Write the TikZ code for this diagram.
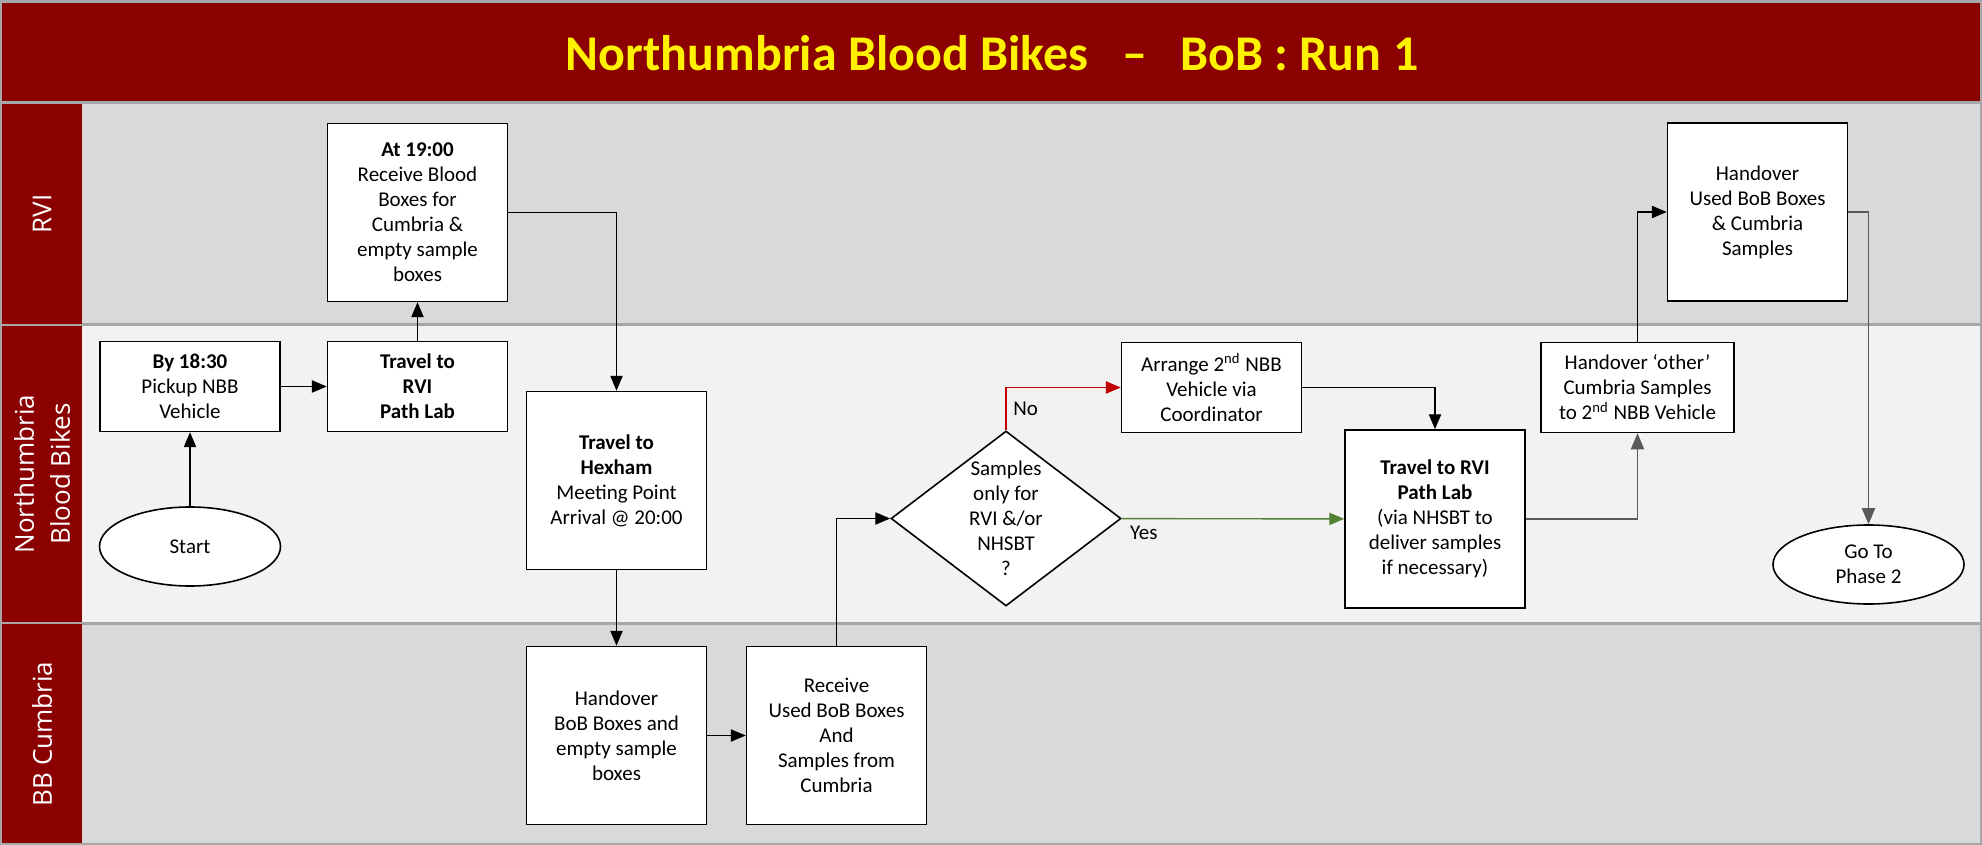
\documentclass[tikz,border=0pt]{standalone}
\usepackage{fontspec}
\setmainfont{Carlito}
\newfontfamily\lanefont{Open Sans}
\usetikzlibrary{shapes, arrows, positioning, calc}
\definecolor{bobred}{RGB}{139,0,0}
\definecolor{lanedark}{RGB}{217,217,217}
\definecolor{lanelight}{RGB}{242,242,242}
\definecolor{lanerule}{RGB}{166,166,166}
\definecolor{nocol}{RGB}{192,0,0}
\definecolor{yescol}{RGB}{84,130,53}

\begin{document}
\begin{tikzpicture}[x=0.5pt, y=-0.5pt, >=triangle 45,
    box/.style={rectangle, draw, fill=white, line width=0.8pt, align=center, minimum width=90pt, inner sep=2pt, font=\fontsize{10.5}{12.5}\selectfont},
    shortbox/.style={box, minimum height=45pt},
    tallbox/.style={box, minimum height=89pt},
    terminal/.style={ellipse, draw, fill=white, line width=0.8pt, align=center, minimum width=90.5pt, minimum height=39.5pt, inner sep=0pt, font=\fontsize{10.5}{12.5}\selectfont},
    lanelabel/.style={rotate=90, text=white, align=center, font=\lanefont\fontsize{13}{18}\selectfont},
    flow/.style={line width=0.7pt, ->},
    greyflow/.style={flow, black!65, line width=0.85pt}]

    \useasboundingbox (0,0) rectangle (1982,845);
    \fill[lanerule] (0,0) rectangle (1982,845);
    \fill[bobred] (2,3) rectangle (1980,101);
    \node[text=yellow, font=\bfseries\fontsize{25}{30}\selectfont] (title) at (992,53) {Northumbria Blood Bikes\hspace{0.67em}–\hspace{0.67em}BoB : Run 1};

    \fill[lanedark] (82,104) rectangle (1980,325);
    \fill[lanelight] (82,325) rectangle (1980,623);
    \fill[lanedark] (82,623) rectangle (1980,843);
    \draw[lanerule, line width=1.5pt] (82,325) -- (1982,325);
    \draw[lanerule, line width=1.5pt] (82,623) -- (1982,623);
    \fill[bobred] (2,104) rectangle (82,324);
    \fill[bobred] (2,326) rectangle (82,622);
    \fill[bobred] (2,624) rectangle (82,843);
    \node[lanelabel] (rvilane) at (42,214) {RVI};
    \node[lanelabel] (nbblane) at (42,474) {Northumbria\\Blood Bikes};
    \node[lanelabel] (cumbrialane) at (42,734) {BB Cumbria};

    \node[terminal] (start) at (190,546.5) {Start};
    \node[shortbox] (pickup) at (190,386.5) {\textbf{By 18:30}\\Pickup NBB\\Vehicle};
    \node[shortbox] (travelrvi) at (417.5,386.5) {\textbf{Travel to}\\\textbf{RVI}\\\textbf{Path Lab}};
    \node[tallbox] (receive) at (417.5,212.5) {\textbf{At 19:00}\\Receive Blood\\Boxes for\\Cumbria \&\\empty sample\\boxes};
    \node[tallbox] (hexham) at (616.5,480.5) {\textbf{Travel to}\\\textbf{Hexham}\\Meeting Point\\Arrival @ 20:00};
    \node[tallbox] (handbob) at (616.5,735.5) {Handover\\BoB Boxes and\\empty sample\\boxes};
    \node[tallbox] (recvused) at (836.5,735.5) {Receive\\Used BoB Boxes\\And\\Samples from\\Cumbria};
    \node[diamond, draw, fill=white, line width=0.8pt, minimum width=115pt, minimum height=87.5pt, inner sep=0pt,
        label={[align=center, font=\fontsize{10.5}{12.5}\selectfont]center:{Samples\\only for\\RVI \&/or\\NHSBT\\?}}] (decide) at (1006,518.5) {};
    \node[shortbox] (arrange) at (1211.5,387.5) {Arrange 2\textsuperscript{nd} NBB\\Vehicle via\\Coordinator};
    \node[tallbox] (pathlab) at (1435,519) {\textbf{Travel to RVI}\\\textbf{Path Lab}\\(via NHSBT to\\deliver samples\\if necessary)};
    \node[shortbox, minimum width=96.5pt] (handother) at (1637.5,387.5) {Handover ‘other’\\Cumbria Samples\\to 2\textsuperscript{nd} NBB Vehicle};
    \node[tallbox] (handused) at (1757.5,212) {Handover\\Used BoB Boxes\\\& Cumbria\\Samples};
    \node[terminal, minimum width=95.5pt] (phase2) at (1868.5,564.5) {Go To\\Phase 2};

    \draw[flow] (start) -- (pickup);
    \draw[flow] (pickup) -- (travelrvi);
    \draw[flow] (travelrvi) -- (receive);
    \draw[flow] (receive) -| (hexham);
    \draw[flow] (hexham) -- (handbob);
    \draw[flow] (handbob) -- (recvused);
    \draw[flow] (recvused) |- (decide);
    \draw[flow, nocol] (decide) |- node[pos=0.25, right, black, font=\fontsize{10.5}{12.5}\selectfont] {No} (arrange);
    \draw[flow, yescol] (decide) -- node[pos=0.1, below, black, font=\fontsize{10.5}{12.5}\selectfont] {Yes} (pathlab);
    \draw[flow] (arrange) -| (pathlab);
    \draw[greyflow] (pathlab) -| (handother);
    \draw[flow] (handother) |- (handused);
    \draw[greyflow] (handused) -| (phase2);
\end{tikzpicture}
\end{document}
